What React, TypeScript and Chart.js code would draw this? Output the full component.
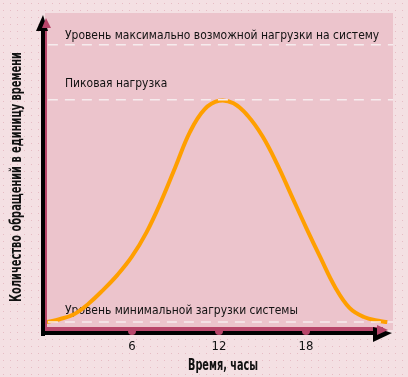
import React, { useEffect, useRef } from "react";
import { Chart, registerables } from "chart.js";

Chart.register(...registerables);

const hours = [0.1, 1, 2, 3, 4, 5, 6, 7, 8, 9, 10, 11, 12, 13, 14, 15, 16, 17, 18, 19, 20, 21, 22, 23, 23.6];
const load = [2.5, 3.4, 5.0, 8.3, 12.6, 17.4, 23.2, 30.8, 40.5, 51.5, 62.5, 69.6, 72.3, 71.5, 67.5, 61.1, 52.4, 42.4, 32.4, 22.8, 13.6, 7.0, 4.1, 2.9, 2.5];
const levelValues = [90, 72.6, 2.5];
const levelLabels = [
  "Уровень максимально возможной нагрузки на систему",
  "Пиковая нагрузка",
  "Уровень минимальной загрузки системы",
];
const xTicks = [6, 12, 18];
const xTitle = "Время, часы";
const yTitle = "Количество обращений в единицу времени";

const PLOT_BG = "#ecc4cc";
const AXIS_PINK = "#b8466a";
const FONT = '"DejaVu Sans Condensed", "Liberation Sans", sans-serif';
const LABEL_OFFSETS = [6, 13, 8];

function fitText(ctx: CanvasRenderingContext2D, text: string, x: number, y: number, width: number, rot = 0) {
  const w = ctx.measureText(text).width;
  ctx.save();
  ctx.translate(x, y);
  if (rot) ctx.rotate(rot);
  ctx.scale(width / w, 1);
  ctx.textAlign = "center";
  ctx.fillText(text, 0, 0);
  ctx.restore();
}

const decorPlugin = {
  id: "decor",
  beforeDatasetsDraw(chart: any) {
    const { ctx, chartArea: a, scales } = chart;
    ctx.save();
    ctx.fillStyle = PLOT_BG;
    ctx.fillRect(a.left, a.top, a.right - a.left, a.bottom - a.top);
    ctx.fillStyle = "#111";
    ctx.font = `13px ${FONT}`;
    ctx.textAlign = "left";
    ctx.textBaseline = "alphabetic";
    levelValues.forEach((v, i) => {
      const y = scales.y.getPixelForValue(v);
      ctx.save();
      ctx.translate(a.left + 20, y - LABEL_OFFSETS[i]);
      ctx.scale(0.92, 1);
      ctx.fillText(levelLabels[i], 0, 0);
      ctx.restore();
    });
    ctx.restore();
  },
  afterDatasetsDraw(chart: any) {
    const { ctx, chartArea: a, scales } = chart;
    ctx.save();
    const L = a.left;
    const B = a.bottom;
    // y axis
    ctx.fillStyle = "#000";
    ctx.fillRect(L - 4, a.top + 14, 4, B - a.top - 14 + 6);
    ctx.fillStyle = AXIS_PINK;
    ctx.fillRect(L, a.top + 12, 2, B - a.top - 12);
    ctx.fillStyle = "#000";
    ctx.beginPath();
    ctx.moveTo(L - 2, a.top + 2);
    ctx.lineTo(L - 9, a.top + 18);
    ctx.lineTo(L + 3, a.top + 18);
    ctx.closePath();
    ctx.fill();
    ctx.fillStyle = AXIS_PINK;
    ctx.beginPath();
    ctx.moveTo(L + 1, a.top + 5);
    ctx.lineTo(L - 3, a.top + 15);
    ctx.lineTo(L + 6, a.top + 15);
    ctx.closePath();
    ctx.fill();
    // x axis
    ctx.fillStyle = AXIS_PINK;
    ctx.fillRect(L, B - 3, a.right - L - 10, 4);
    ctx.fillStyle = "#000";
    ctx.fillRect(L - 4, B + 1, a.right - L - 14, 4);
    ctx.beginPath();
    ctx.moveTo(a.right - 1, B + 3);
    ctx.lineTo(a.right - 20, B - 3);
    ctx.lineTo(a.right - 20, B + 12);
    ctx.closePath();
    ctx.fill();
    ctx.fillStyle = AXIS_PINK;
    ctx.beginPath();
    ctx.moveTo(a.right - 5, B);
    ctx.lineTo(a.right - 16, B - 5);
    ctx.lineTo(a.right - 16, B + 5);
    ctx.closePath();
    ctx.fill();
    // ticks
    ctx.font = `13px ${FONT}`;
    ctx.textAlign = "center";
    ctx.textBaseline = "middle";
    xTicks.forEach((t) => {
      const x = scales.x.getPixelForValue(t);
      ctx.fillStyle = AXIS_PINK;
      ctx.beginPath();
      ctx.arc(x, B + 1, 4, 0, Math.PI * 2);
      ctx.fill();
      ctx.fillStyle = "#111";
      ctx.fillText(String(t), x, B + 17);
    });
    // titles
    ctx.font = `bold 15px ${FONT}`;
    ctx.fillStyle = "#111";
    fitText(ctx, xTitle, (L + a.right) / 2 + 4, B + 36, 70);
    fitText(ctx, yTitle, 17, 177, 250, -Math.PI / 2);
    ctx.restore();
  },
};

export default function App() {
  const ref = useRef<HTMLCanvasElement>(null);
  useEffect(() => {
    document.body.style.margin = "0";
    const levelSets = levelValues.map((v) => ({
      type: "line" as const,
      data: [
        { x: 0.2, y: v },
        { x: 24, y: v },
      ],
      borderColor: "#f6ecee",
      borderWidth: 1.5,
      borderDash: [10, 7],
      pointRadius: 0,
      tension: 0,
    }));
    const chart = new Chart(ref.current!, {
      type: "line",
      data: {
        datasets: [
          ...levelSets,
          {
            data: hours.map((h, i) => ({ x: h, y: load[i] })),
            borderColor: "#ff9f00",
            borderWidth: 4,
            pointRadius: 0,
            tension: 0.4,
            fill: false,
          },
        ],
      },
      options: {
        animation: false,
        responsive: false,
        events: [],
        layout: { padding: { left: 45, right: 15, top: 13, bottom: 47 } },
        plugins: { legend: { display: false }, tooltip: { enabled: false } },
        scales: {
          x: { type: "linear", min: 0, max: 24, display: false },
          y: { type: "linear", min: 0, max: 100, display: false },
        },
      },
      plugins: [decorPlugin],
    });
    return () => chart.destroy();
  }, []);
  return (
    <div
      style={{
        width: 408,
        height: 377,
        backgroundColor: "#f4e0e3",
        backgroundImage: "radial-gradient(#e6bcc4 0.7px, transparent 1px)",
        backgroundSize: "7px 7px",
      }}
    >
      <canvas ref={ref} width={408} height={377} />
    </div>
  );
}
